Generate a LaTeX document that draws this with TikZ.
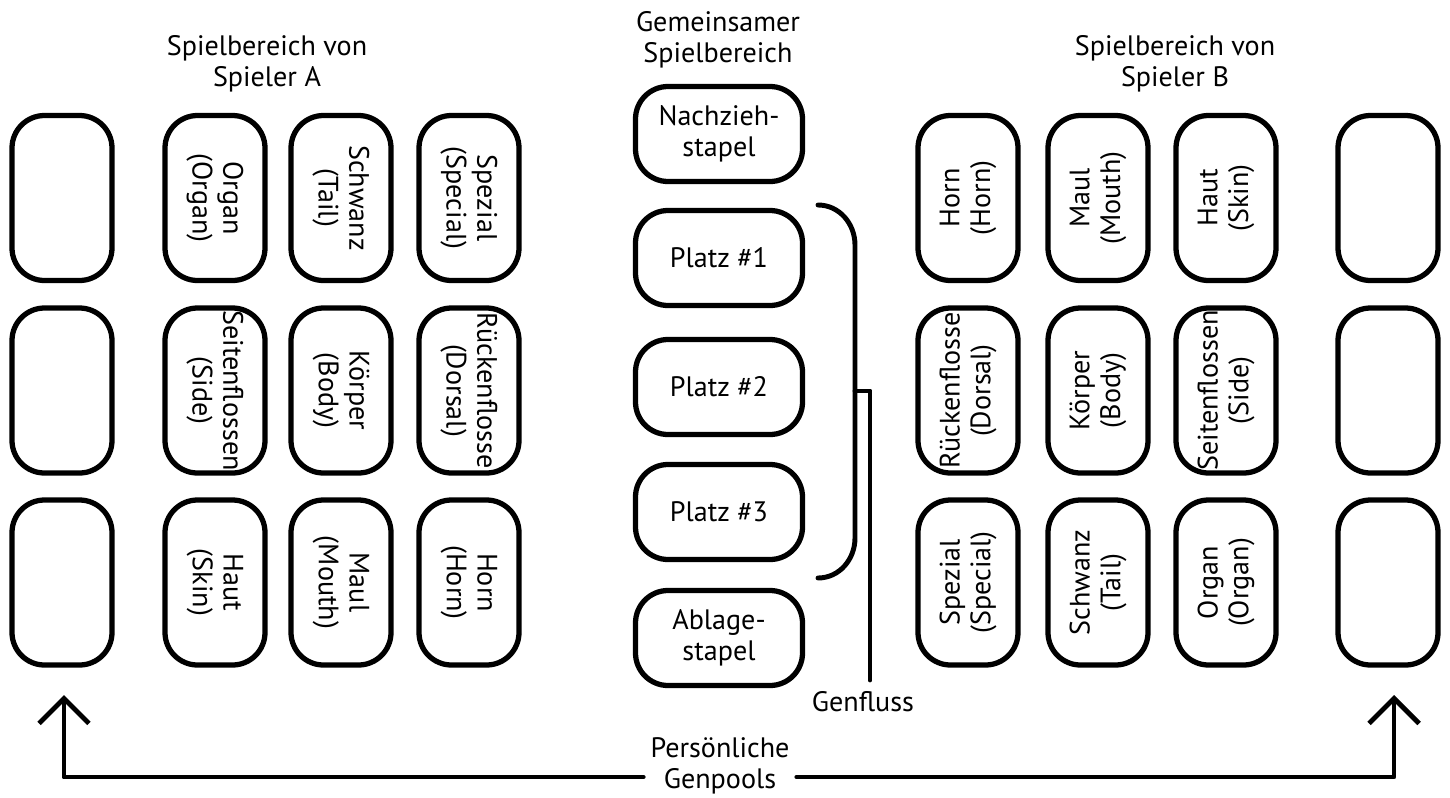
\documentclass[tikz,border=0pt]{standalone}
\usepackage{fontspec}
\setmainfont{PT Sans}
\usepackage{tikz}
\usetikzlibrary{arrows.meta}
\newcommand{\CardColor}{black}

\begin{document}
\begin{tikzpicture}[line cap=round,line join=round,>={Straight Barb[length=5mm,width=10mm]}
  ,x=1.0cm,y=1.0cm
  ,txt/.style={font=\fontsize{16}{17.5}\selectfont,align=center,inner sep=1pt}
  ,card/.style={txt,draw=\CardColor,line width=3pt,rounded corners=0.65cm,
    minimum width=3.3cm,minimum height=2cm,inner sep=0pt}
  ,cardA/.style={card,rotate=-90}
  ,cardB/.style={card,rotate=90}
  ,pile/.style={card,minimum width=3.34cm,minimum height=1.9cm}
  ,wire/.style={line width=2.8pt}]
  \useasboundingbox (0,0) rectangle (29,-15.96);
  % titles
  \node[txt] (tA) at (5.34,-1.28) {Spielbereich von\\Spieler A};
  \node[txt] (tM) at (14.36,-0.8) {Gemeinsamer\\Spielbereich};
  \node[txt] (tB) at (23.5,-1.28) {Spielbereich von\\Spieler B};
  % player A
  \node[cardA] (a0) at (1.24,-3.96) {};
  \node[cardA] (a1) at (4.30,-3.96) {Organ\\(Organ)};
  \node[cardA] (a2) at (6.82,-3.96) {Schwanz\\(Tail)};
  \node[cardA] (a3) at (9.38,-3.96) {Spezial\\(Special)};
  \node[cardA] (a4) at (1.24,-7.81) {};
  \node[cardA] (a5) at (4.30,-7.81) {Seitenflossen\\(Side)};
  \node[cardA] (a6) at (6.82,-7.81) {Körper\\(Body)};
  \node[cardA] (a7) at (9.38,-7.81) {Rückenflosse\\(Dorsal)};
  \node[cardA] (a8) at (1.24,-11.65) {};
  \node[cardA] (a9) at (4.30,-11.65) {Haut\\(Skin)};
  \node[cardA] (a10) at (6.82,-11.65) {Maul\\(Mouth)};
  \node[cardA] (a11) at (9.38,-11.65) {Horn\\(Horn)};
  % shared area
  \node[pile] (draw) at (14.38,-2.68) {Nachzieh-\\stapel};
  \node[pile] (p1) at (14.38,-5.16) {Platz \#1};
  \node[pile] (p2) at (14.38,-7.74) {Platz \#2};
  \node[pile] (p3) at (14.38,-10.24) {Platz \#3};
  \node[pile] (disc) at (14.38,-12.76) {Ablage-\\stapel};
  % player B
  \node[cardB] (b0) at (19.36,-3.96) {Horn\\(Horn)};
  \node[cardB] (b1) at (21.96,-3.96) {Maul\\(Mouth)};
  \node[cardB] (b2) at (24.52,-3.96) {Haut\\(Skin)};
  \node[cardB] (b3) at (27.76,-3.96) {};
  \node[cardB] (b4) at (19.36,-7.81) {Rückenflosse\\(Dorsal)};
  \node[cardB] (b5) at (21.96,-7.81) {Körper\\(Body)};
  \node[cardB] (b6) at (24.52,-7.81) {Seitenflossen\\(Side)};
  \node[cardB] (b7) at (27.76,-7.81) {};
  \node[cardB] (b8) at (19.36,-11.65) {Spezial\\(Special)};
  \node[cardB] (b9) at (21.96,-11.65) {Schwanz\\(Tail)};
  \node[cardB] (b10) at (24.52,-11.65) {Organ\\(Organ)};
  \node[cardB] (b11) at (27.76,-11.65) {};
  % gene flow bracket
  \draw[wire] (16.36,-4.1) to[out=0,in=90] (17.1,-4.9) -- (17.1,-10.76)
    to[out=-90,in=0] (16.36,-11.56);
  \coordinate (brk) at (17.1,-7.82);
  \coordinate (gfend) at (17.4,-13.6);
  \node[txt] (gf) at (17.26,-14.04) {Genfluss};
  \draw[wire] (brk) -| (gfend);
  % personal gene pools
  \node[txt,inner sep=4pt] (pool) at (14.4,-15.32) {Persönliche\\Genpools};
  \coordinate (base) at (0,-15.54);
  \coordinate (pA) at (1.28,-13.9);
  \coordinate (pB) at (27.88,-13.9);
  \draw[wire,->] (pool.west |- base) -| (pA);
  \draw[wire,->] (pool.east |- base) -| (pB);
\end{tikzpicture}
\end{document}
